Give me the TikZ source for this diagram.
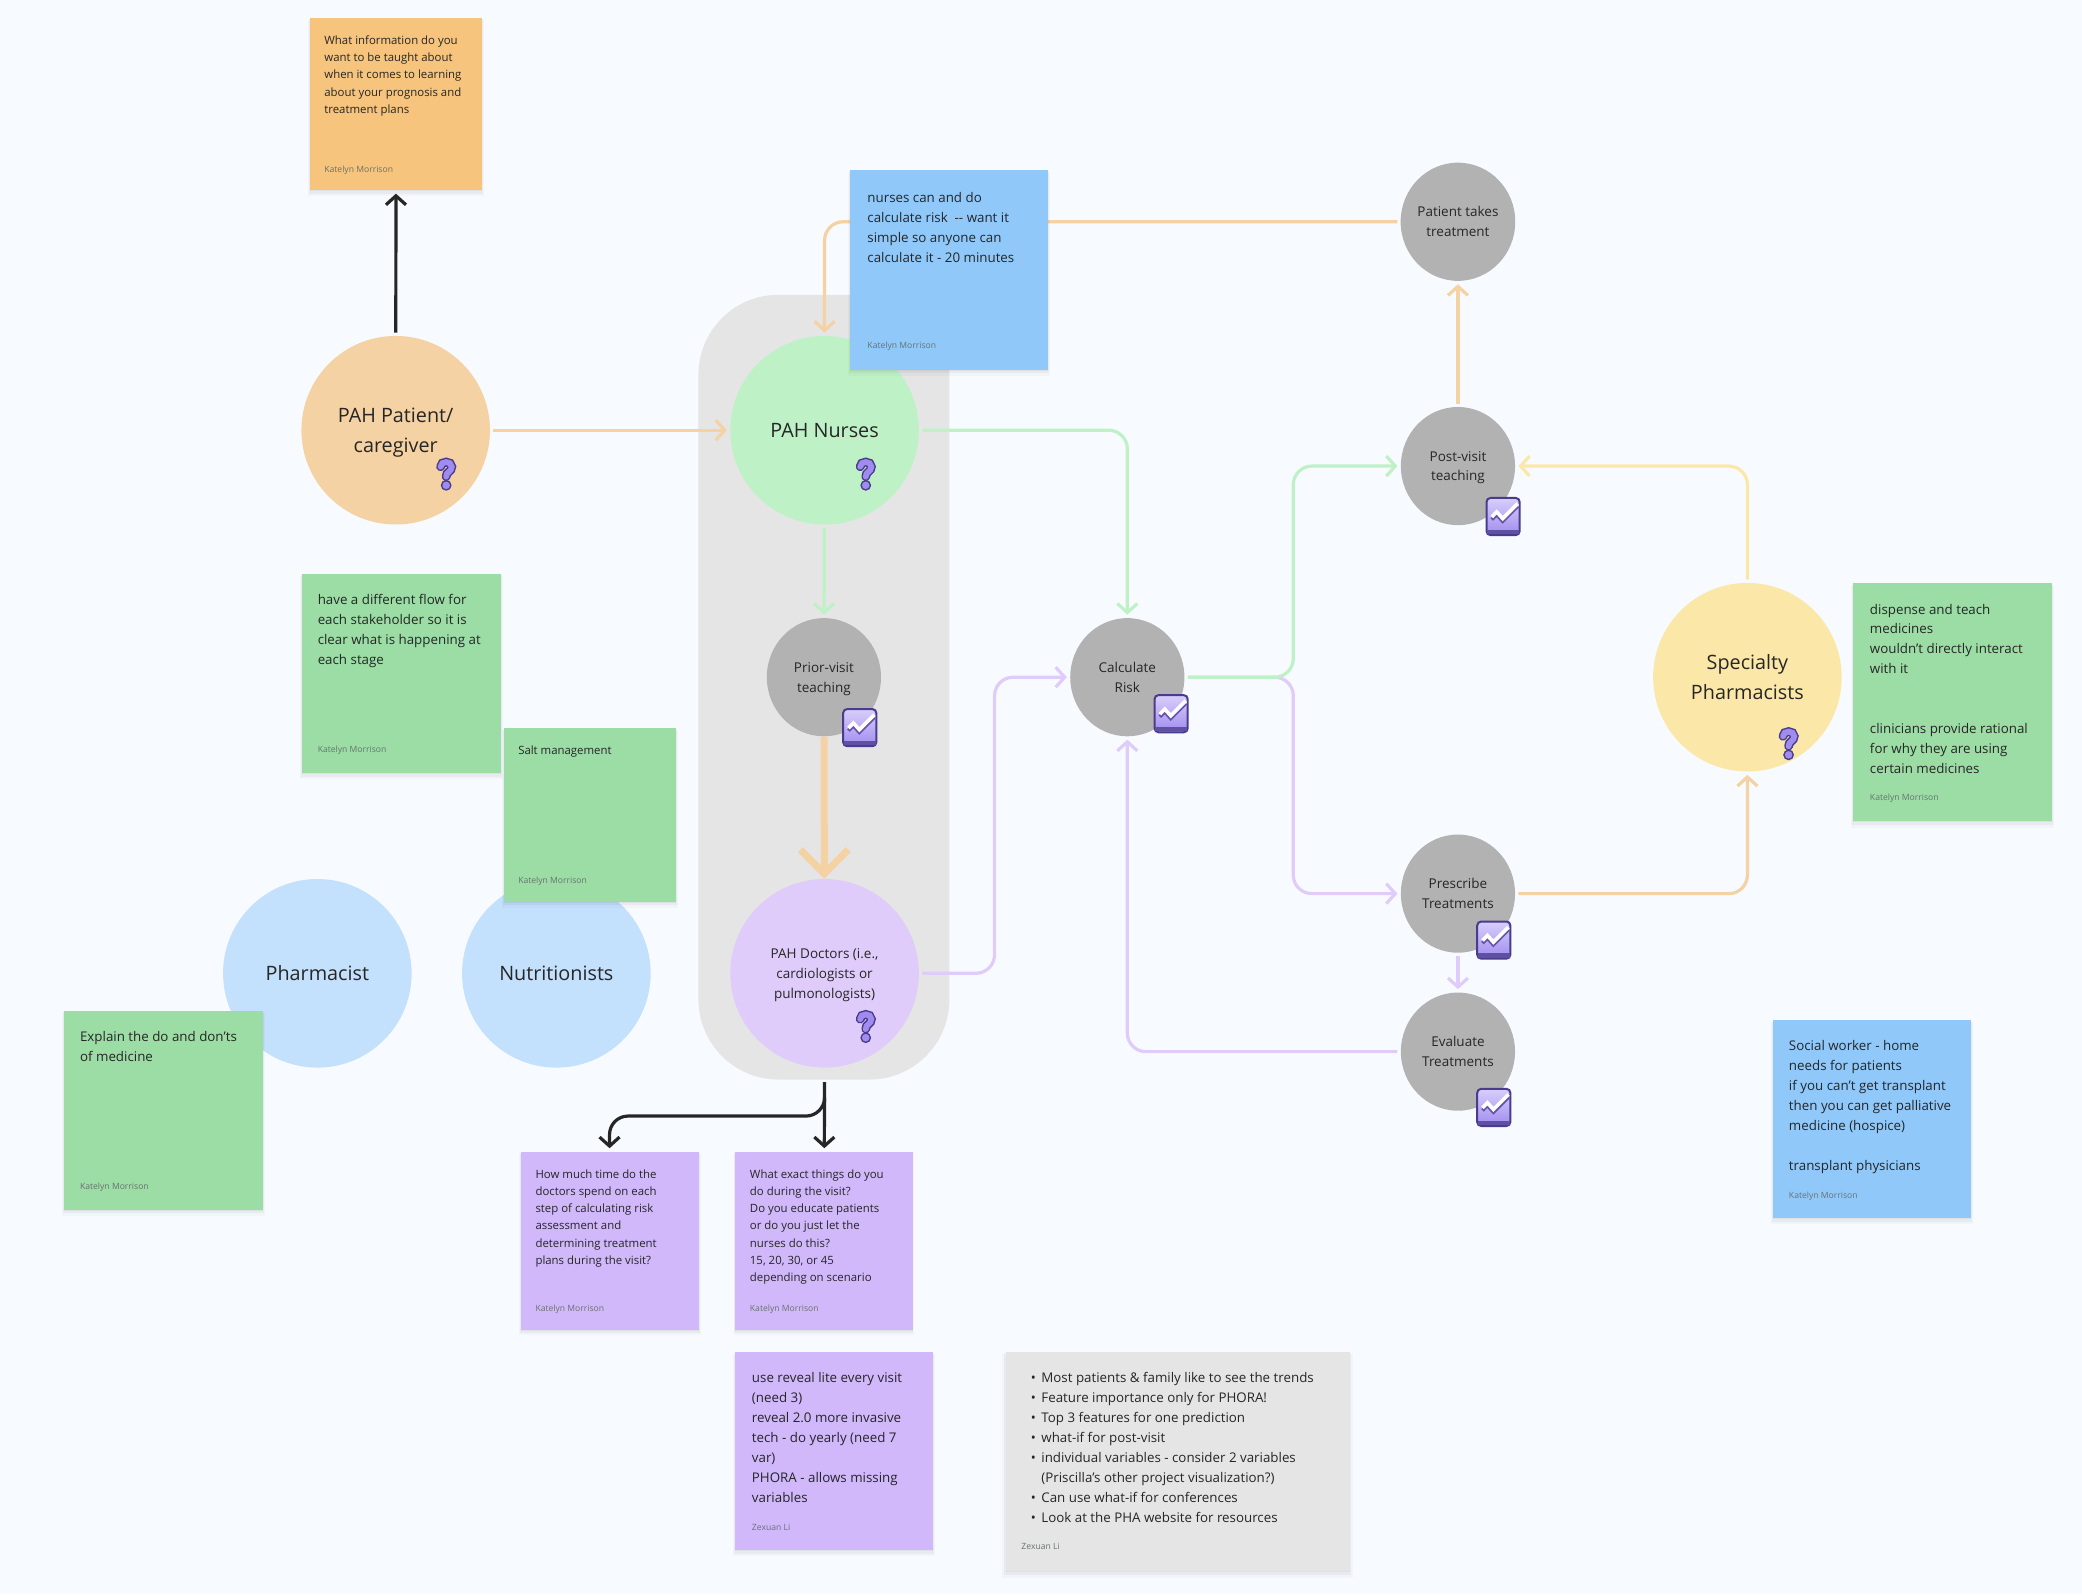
\documentclass[tikz,border=0pt]{standalone}
\usepackage{fontspec}
\setmainfont{Open Sans}
\usetikzlibrary{arrows.meta, shadows, shapes.geometric}
\definecolor{canvasbg}{RGB}{247,251,255}
\definecolor{groupgray}{RGB}{229,229,229}
\definecolor{stepgray}{RGB}{178,178,178}
\definecolor{inkdark}{RGB}{38,38,38}
\definecolor{authorgray}{RGB}{105,115,110}
\definecolor{peach}{RGB}{245,210,163}
\definecolor{mint}{RGB}{190,242,198}
\definecolor{lilac}{RGB}{224,204,250}
\definecolor{sky}{RGB}{195,224,252}
\definecolor{butter}{RGB}{251,232,169}
\definecolor{notegreen}{RGB}{155,221,165}
\definecolor{noteblue}{RGB}{144,200,249}
\definecolor{notepurple}{RGB}{209,184,250}
\definecolor{noteorange}{RGB}{246,196,124}
\definecolor{iconedge}{RGB}{74,60,140}
\definecolor{iconfill}{RGB}{160,140,238}
\definecolor{iconlight}{RGB}{216,206,252}
\newcommand{\notebullet}{\makebox[5.3pt][l]{•}}

\tikzset{
    bigcircle/.style={circle, inner sep=0pt, minimum size=94.3pt, align=center, text=inkdark, text depth=0pt,
        font=\fontsize{9.9}{14.9}\selectfont},
    stepcircle/.style={ellipse, fill=stepgray, inner sep=0pt, minimum width=57.1pt, minimum height=59.1pt, align=center, text=inkdark, text depth=0pt,
        font=\fontsize{6.75}{9.96}\selectfont},
    sticky/.style={anchor=north west, inner sep=0pt,
        general shadow={shadow yshift=-2pt, fill=black, opacity=0.025, shadow scale=1.02},
        general shadow={shadow yshift=-1.2pt, fill=black, opacity=0.04, shadow scale=1.01},
        general shadow={shadow yshift=-0.5pt, fill=black, opacity=0.04}},
    bodytext/.style={anchor=north west, inner sep=0pt, align=left, text=inkdark,
        font=\fontsize{6.67}{9.96}\selectfont},
    smalltext/.style={anchor=north west, inner sep=0pt, align=left, text=inkdark,
        font=\fontsize{5.7}{8.63}\selectfont},
    author/.style={anchor=west, inner sep=0pt, text=authorgray, font=\fontsize{4.3}{6}\selectfont},
    flow/.style={line width=1.6pt, rounded corners=9.3pt, shorten >=1.5pt, shorten <=1.5pt,
        -{Straight Barb[length=4.5pt, width=10pt, line width=1.6pt]}},
    blackflow/.style={flow, draw=inkdark},
    pics/charticon/.style={code={
        \draw[rounded corners=2pt, line width=1pt, draw=iconedge, top color=iconlight, bottom color=iconfill]
            (-12.5,-14) rectangle (12.5,14);
        \fill[iconedge!75!iconfill] (-12,10) rectangle (12,13.3);
        \draw[iconedge!70!iconfill, line width=1.8pt, line join=miter] (-8.5,2.3) -- (-4.8,-1.5) -- (-0.3,3.5) -- (11,-7.8);
        \draw[white, line width=1.8pt, line join=miter] (-8.5,0.3) -- (-4.8,-3.5) -- (-0.3,1.5) -- (11,-9.8);
    }},
    pics/askicon/.style={code={
        \draw[iconedge, line width=4.4pt, line cap=round] (-4.2,-5.5) .. controls (-4.2,-10.2) and (4.2,-10.2) .. (4.2,-5.5)
            .. controls (4.2,-1.5) and (0,-2) .. (0,2);
        \fill[iconedge] (0,8.5) circle (2.7pt);
        \draw[iconfill, line width=2.9pt, line cap=round] (-4.2,-5.5) .. controls (-4.2,-10.2) and (4.2,-10.2) .. (4.2,-5.5)
            .. controls (4.2,-1.5) and (0,-2) .. (0,2);
        \fill[iconfill] (0,8.5) circle (1.9pt);
    }}
}

\begin{document}
\begin{tikzpicture}[x=0.664pt, y=-0.664pt]
    \fill[canvasbg] (0,0) rectangle (1568,1200.5);
    \useasboundingbox (0,0) rectangle (1568,1200.5);

    % Group behind the clinicians
    \fill[groupgray, rounded corners=40pt] (526,222) rectangle (715,813);

    % Stakeholders
    \node[bigcircle, fill=peach] (patient) at (298,324) {PAH Patient/\\caregiver};
    \node[bigcircle, fill=mint] (nurses) at (621,324) {PAH Nurses};
    \node[bigcircle, fill=lilac, font=\fontsize{6.75}{9.96}\selectfont] (doctors) at (621,733) {PAH Doctors (i.e.,\\cardiologists or\\pulmonologists)};
    \node[bigcircle, fill=sky] (pharmacist) at (239,733) {Pharmacist};
    \node[bigcircle, fill=sky] (nutrition) at (419,733) {Nutritionists};
    \node[bigcircle, fill=butter] (specialty) at (1316,510) {Specialty\\Pharmacists};

    % Steps
    \node[stepcircle] (prior) at (620.5,510) {Prior-visit\\teaching};
    \node[stepcircle] (calc) at (849,510) {Calculate\\Risk};
    \node[stepcircle] (takes) at (1098,167) {Patient takes\\treatment};
    \node[stepcircle] (post) at (1098,351) {Post-visit\\teaching};
    \node[stepcircle] (prescribe) at (1098,673) {Prescribe\\Treatments};
    \node[stepcircle] (evaluate) at (1098,792) {Evaluate\\Treatments};

    % Bend points of the connectors
    \coordinate (nursebend) at (621,167);
    \coordinate (calcbend) at (849,324);
    \coordinate (docbend) at (749,733);
    \coordinate (docin) at (749,510);
    \coordinate (splitbend) at (974,510);
    \coordinate (postin) at (974,351);
    \coordinate (rxin) at (974,673);
    \coordinate (evalbend) at (849,792);
    \coordinate (rxbend) at (1316,673);
    \coordinate (specbend) at (1316,351);
    \coordinate (splittop) at (621,830);
    \coordinate (splitmid) at (459,840.5);

    % Orange connectors
    \draw[flow, draw=peach] (patient) -- (nurses);
    \draw[flow, draw=peach] (takes) -- (nursebend) -- (nurses);
    \draw[flow, draw=peach] (post) -- (takes);
    \draw[flow, draw=peach] (prescribe) -- (rxbend) -- (specialty);
    \draw[peach, line width=3.5pt, -{Straight Barb[length=12pt, width=24pt, line width=3.5pt]}] (prior) -- (doctors);

    % Yellow connector
    \draw[flow, draw=butter] (specialty) -- (specbend) -- (post);

    % Purple connectors
    \draw[flow, draw=lilac] (doctors) -- (docbend) -- (docin) -- (calc);
    \draw[flow, draw=lilac] (calc) -- (splitbend) -- (rxin) -- (prescribe);
    \draw[flow, draw=lilac] (prescribe) -- (evaluate);
    \draw[flow, draw=lilac] (evaluate) -- (evalbend) -- (calc);

    % Green connectors
    \draw[flow, draw=mint] (nurses) -- (prior);
    \draw[flow, draw=mint] (nurses) -- (calcbend) -- (calc);
    \draw[flow, draw=mint] (calc) -- (splitbend) -- (postin) -- (post);

    % Icons on the circles
    \pic at (336,357) {askicon};
    \pic at (652,357) {askicon};
    \pic at (652,773) {askicon};
    \pic at (1347,560) {askicon};
    \pic at (647.5,548) {charticon};
    \pic at (882,537.5) {charticon};
    \pic at (1132,389) {charticon};
    \pic at (1125,708) {charticon};
    \pic at (1125,834) {charticon};

    % Notes, top
    \node[sticky, fill=noteorange, minimum width=86.3pt, minimum height=86.3pt] (taught) at (233,13) {};
    \node[smalltext] (taughttext) at (244,26.5) {What information do you\\want to be taught about\\when it comes to learning\\about your prognosis and\\treatment plans};
    \node[author] (taughtby) at (244,128.5) {Katelyn Morrison};

    \node[sticky, fill=noteblue, minimum width=99pt, minimum height=99.6pt] (risknote) at (640,128) {};
    \node[bodytext] (risktext) at (653,144.5) {nurses can and do\\calculate risk\ \ {-}{-} want it\\simple so anyone can\\calculate it - 20 minutes};
    \node[author] (riskby) at (653,261) {Katelyn Morrison};

    % Notes, left
    \node[sticky, fill=notegreen, minimum width=99.6pt, minimum height=99.6pt] (flownote) at (227,432) {};
    \node[bodytext] (flowtext) at (239,447.5) {have a different flow for\\each stakeholder so it is\\clear what is happening at\\each stage};
    \node[author] (flowby) at (239,565) {Katelyn Morrison};

    \node[sticky, fill=notegreen, minimum width=86.3pt, minimum height=87pt] (saltnote) at (379,548) {};
    \node[smalltext] (salttext) at (390,561.5) {Salt management};
    \node[author] (saltby) at (390,664) {Katelyn Morrison};

    \node[sticky, fill=notegreen, minimum width=99.6pt, minimum height=99.6pt] (medsnote) at (48,761) {};
    \node[bodytext] (medstext) at (60,776.5) {Explain the do and don’ts\\of medicine};
    \node[author] (medsby) at (60,894) {Katelyn Morrison};

    % Notes, right
    \node[sticky, fill=notegreen, minimum width=99.6pt, minimum height=118.9pt] (teachnote) at (1395,439) {};
    \node[bodytext] (teachtext) at (1408,454.5) {dispense and teach\\medicines\\wouldn’t directly interact\\with it\\[19.92pt]clinicians provide rational\\for why they are using\\certain medicines};
    \node[author] (teachby) at (1408,601.5) {Katelyn Morrison};

    \node[sticky, fill=noteblue, minimum width=99pt, minimum height=99pt] (socialnote) at (1335,768) {};
    \node[bodytext] (socialtext) at (1347,783.5) {Social worker - home\\needs for patients\\if you can’t get transplant\\then you can get palliative\\medicine (hospice)\\[9.96pt]transplant physicians};
    \node[author] (socialby) at (1347,901) {Katelyn Morrison};

    % Notes, below the doctors
    \node[sticky, fill=notepurple, minimum width=89pt, minimum height=89pt] (timenote) at (392,867) {};
    \node[smalltext] (timetext) at (403,880.5) {How much time do the\\doctors spend on each\\step of calculating risk\\assessment and\\determining treatment\\plans during the visit?};
    \node[author] (timeby) at (403,986) {Katelyn Morrison};

    \node[sticky, fill=notepurple, minimum width=88.6pt, minimum height=89pt] (visitnote) at (553.5,867) {};
    \node[smalltext] (visittext) at (564.5,880.5) {What exact things do you\\do during the visit?\\Do you educate patients\\or do you just let the\\nurses do this?\\15, 20, 30, or 45\\depending on scenario};
    \node[author] (visitby) at (564.5,986) {Katelyn Morrison};

    \node[sticky, fill=notepurple, minimum width=99pt, minimum height=99pt] (revealnote) at (553.5,1018) {};
    \node[bodytext] (revealtext) at (566,1033.5) {use reveal lite every visit\\(need 3)\\reveal 2.0 more invasive\\tech - do yearly (need 7\\var)\\PHORA - allows missing\\variables};
    \node[author] (revealby) at (566,1150) {Zexuan Li};

    \node[sticky, fill=groupgray, minimum width=172pt, minimum height=109.6pt] (trendsnote) at (757,1018) {};
    \node[bodytext] (trendstext) at (776,1033.5) {\notebullet Most patients \& family like to see the trends\\\notebullet Feature importance only for PHORA!\\\notebullet Top 3 features for one prediction\\\notebullet what-if for post-visit\\\notebullet individual variables - consider 2 variables\\\hspace*{5.3pt}(Priscilla’s other project visualization?)\\\notebullet Can use what-if for conferences\\\notebullet Look at the PHA website for resources};
    \node[author] (trendsby) at (769,1164.5) {Zexuan Li};

    % Black connectors
    \draw[blackflow] (patient) -- (taught);
    \draw[blackflow, shorten <=0pt] (doctors.south |- 0,815) -- (visitnote);
    \draw[blackflow, shorten <=0pt, rounded corners=9.3pt] (splittop) -- (621,840.5) -- (splitmid) -- (timenote);
\end{tikzpicture}
\end{document}
